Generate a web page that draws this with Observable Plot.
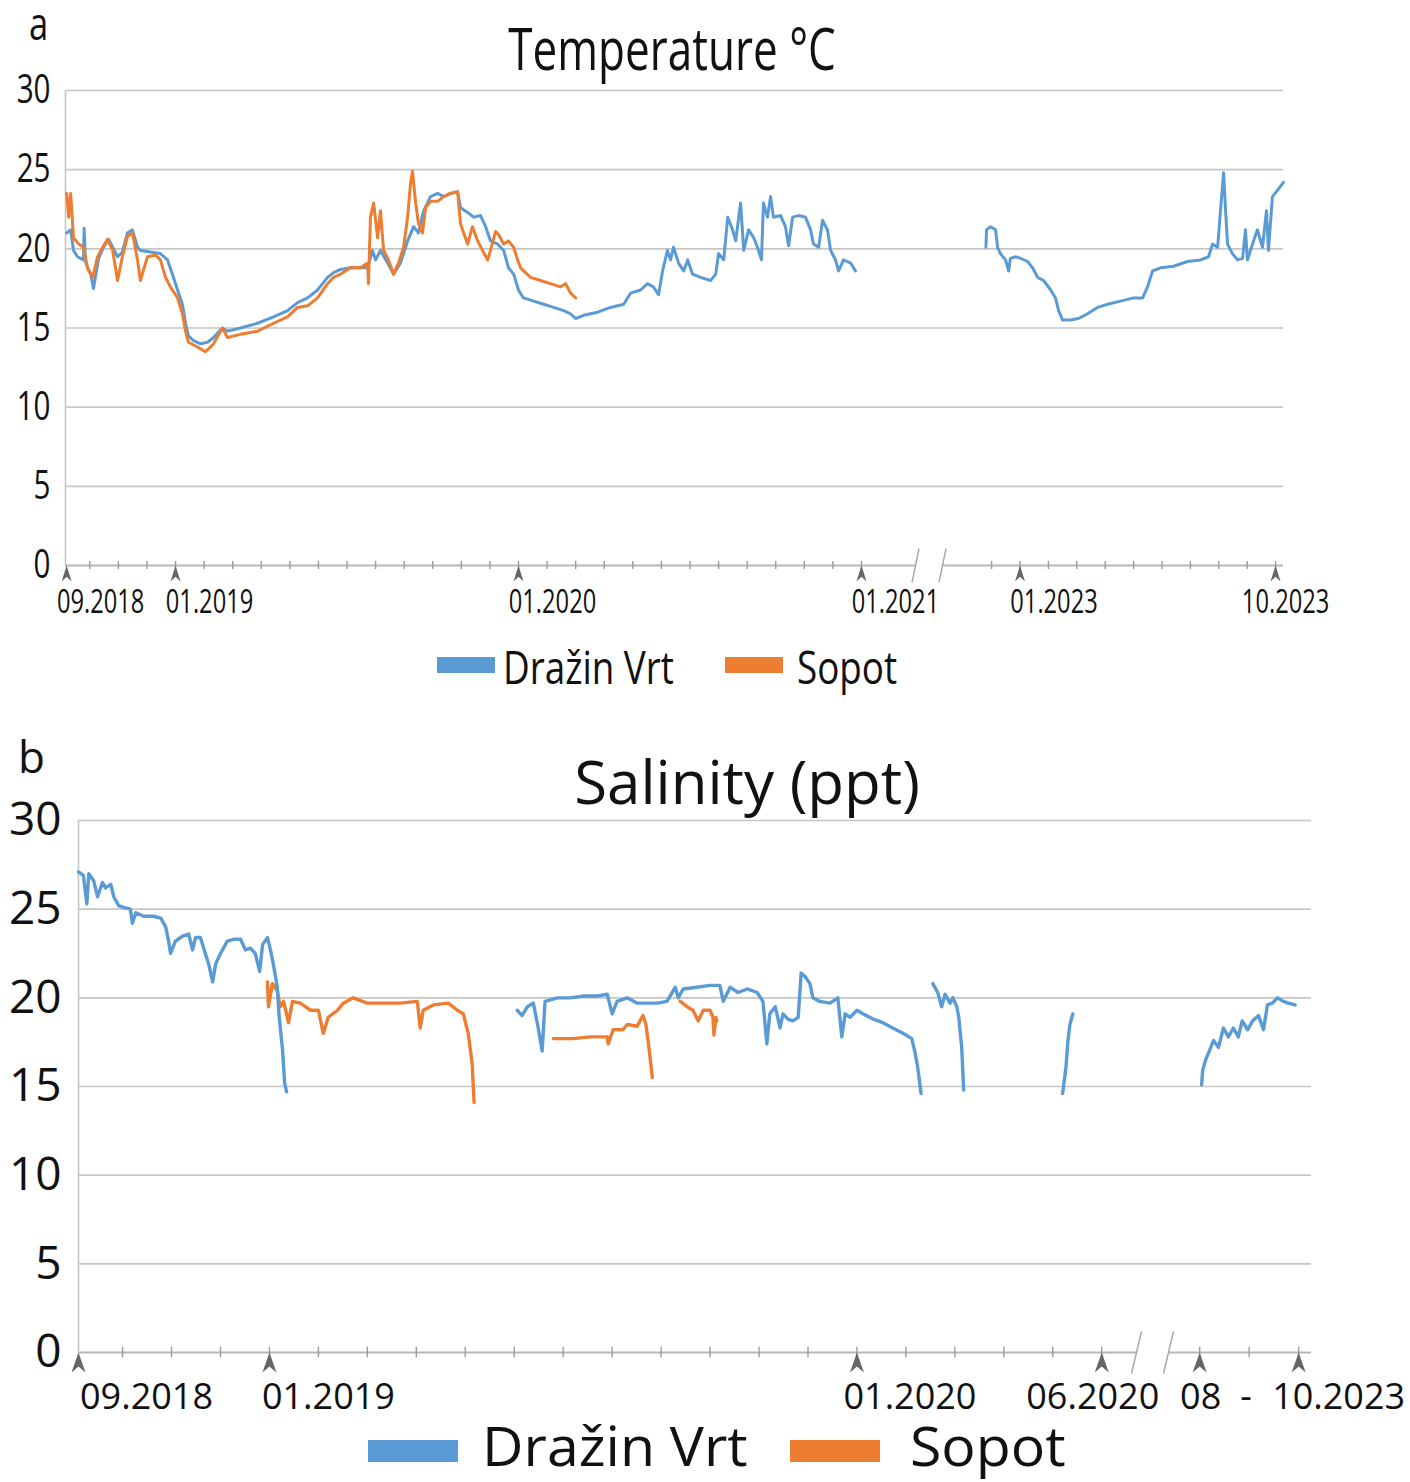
<!DOCTYPE html>
<html><head><meta charset="utf-8">
<script src="https://cdn.jsdelivr.net/npm/d3@7"></script>
<script src="https://cdn.jsdelivr.net/npm/@observablehq/plot@0.6"></script>
<style>
body{margin:0;background:#fff;}
#wrap{position:relative;width:1410px;height:1482px;overflow:hidden;background:#fff;}
#wrap > *{position:absolute;left:0;}
text{font-family:"Open Sans",sans-serif;}
</style></head>
<body><div id="wrap">
<div id="pa" style="top:0"></div>
<div id="pb" style="top:700px"></div>
<svg id="over" width="1410" height="1482" style="top:0;pointer-events:none">
  <text transform="translate(29,40) scale(0.75,1)" font-size="46" fill="#111">a</text>
  <text transform="translate(672,70) scale(0.76,1)" font-size="58" text-anchor="middle" fill="#111">Temperature °C</text>
  <rect x="437" y="657" width="58" height="16" fill="#5B9BD5"/>
  <text transform="translate(503,684) scale(0.8,1)" font-size="46" fill="#111">Dražin Vrt</text>
  <rect x="725" y="657" width="58" height="16" fill="#ED7D31"/>
  <text transform="translate(797,684) scale(0.8,1)" font-size="46" fill="#111">Sopot</text>
  <text x="18" y="773" font-size="44" fill="#111">b</text>
  <text x="747" y="804" font-size="60" text-anchor="middle" fill="#111">Salinity (ppt)</text>
  <rect x="368" y="1440" width="90" height="22" fill="#5B9BD5"/>
  <text transform="translate(482,1466) scale(1.04,1)" font-size="55" fill="#111">Dražin Vrt</text>
  <rect x="790" y="1440" width="90" height="22" fill="#ED7D31"/>
  <text transform="translate(910,1466) scale(1.04,1)" font-size="55" fill="#111">Sopot</text>
</svg>
</div>
<script>
// ---- Data: [months since 01.09.2018, value] ----
const tempBlue1 = [[0.19,21.0],[0.33,21.2],[0.43,19.9],[0.57,19.5],[0.78,19.3],[0.80,21.3],[0.85,19.2],[0.92,18.8],[1.03,18.4],[1.13,17.5],[1.31,19.4],[1.48,20.1],[1.66,20.6],[1.80,20.1],[1.97,19.5],[2.14,19.8],[2.32,21.0],[2.49,21.2],[2.67,20.1],[2.77,19.9],[3.12,19.8],[3.47,19.7],[3.72,19.3],[3.89,18.4],[4.07,17.4],[4.24,16.5],[4.35,15.3],[4.45,14.5],[4.63,14.2],[4.87,14.0],[5.12,14.1],[5.33,14.4],[5.64,15.0],[5.82,14.8],[6.27,15.0],[6.87,15.3],[7.43,15.7],[7.92,16.1],[8.27,16.6],[8.62,16.9],[8.97,17.4],[9.32,18.2],[9.53,18.5],[9.77,18.7],[10.12,18.8],[10.72,18.8],[10.89,19.9],[11.00,19.3],[11.17,19.9],[11.42,19.1],[11.63,18.4],[11.87,19.1],[12.12,20.5],[12.33,21.4],[12.50,21.0],[12.68,22.4],[12.92,23.3],[13.17,23.5],[13.38,23.3],[13.62,23.5],[13.87,23.6],[13.97,22.6],[14.22,22.3],[14.43,22.0],[14.67,22.1],[14.85,21.4],[15.02,20.5],[15.27,20.3],[15.48,19.9],[15.65,18.8],[15.83,18.4],[16.00,17.4],[16.17,16.9],[16.53,16.7],[16.88,16.5],[17.23,16.3],[17.58,16.1],[17.82,15.9],[18.00,15.6],[18.28,15.8],[18.77,16.0],[19.22,16.3],[19.68,16.5],[19.92,17.2],[20.27,17.4],[20.51,17.8],[20.72,17.6],[20.90,17.1],[21.04,18.6],[21.21,19.9],[21.32,19.3],[21.42,20.1],[21.60,19.1],[21.78,18.6],[21.92,19.3],[22.09,18.4],[22.37,18.2],[22.72,18.0],[22.90,18.4],[23.00,19.7],[23.18,19.3],[23.32,22.0],[23.49,21.2],[23.60,20.5],[23.77,22.9],[23.88,19.9],[24.05,21.2],[24.23,20.7],[24.36,20.1],[24.50,19.3],[24.57,22.9],[24.71,22.0],[24.82,23.3],[24.92,22.0],[25.17,22.1],[25.34,21.4],[25.45,20.2],[25.59,22.0],[25.80,22.1],[26.04,22.0],[26.22,21.2],[26.32,20.3],[26.50,20.1],[26.64,21.8],[26.81,21.2],[26.92,19.9],[27.09,19.3],[27.20,18.6],[27.37,19.3],[27.62,19.1],[27.79,18.6]];
const tempBlue2 = [[50.80,20.1],[50.82,21.2],[50.96,21.4],[51.14,21.2],[51.21,20.1],[51.31,19.7],[51.49,19.3],[51.60,18.6],[51.66,19.4],[51.84,19.5],[52.02,19.4],[52.27,19.2],[52.44,18.8],[52.62,18.2],[52.83,18.0],[53.08,17.4],[53.25,16.9],[53.36,16.1],[53.50,15.5],[53.78,15.5],[54.06,15.6],[54.38,15.9],[54.73,16.3],[55.09,16.5],[55.54,16.7],[56.00,16.9],[56.32,16.9],[56.49,17.6],[56.67,18.6],[56.95,18.8],[57.41,18.9],[57.90,19.2],[58.36,19.3],[58.64,19.5],[58.78,20.3],[58.96,20.1],[59.06,22.4],[59.17,24.8],[59.24,22.4],[59.31,20.3],[59.48,19.7],[59.66,19.3],[59.84,19.4],[59.94,21.2],[60.01,19.3],[60.19,20.3],[60.36,21.2],[60.54,20.1],[60.68,22.4],[60.75,19.9],[60.89,23.3],[61.07,23.7],[61.28,24.2]];
const tempOrange = [[0.19,23.5],[0.26,22.0],[0.33,23.5],[0.43,20.7],[0.61,20.3],[0.78,20.1],[0.92,18.8],[1.10,18.2],[1.27,19.5],[1.45,20.1],[1.62,20.6],[1.80,19.9],[1.97,18.0],[2.14,19.5],[2.32,20.8],[2.49,21.0],[2.67,19.3],[2.77,18.0],[3.02,19.5],[3.30,19.6],[3.47,19.3],[3.65,18.2],[3.82,17.6],[4.07,16.9],[4.24,15.9],[4.35,14.8],[4.45,14.1],[4.77,13.8],[5.05,13.5],[5.33,14.0],[5.64,15.0],[5.82,14.4],[6.27,14.6],[6.87,14.8],[7.43,15.3],[7.92,15.7],[8.27,16.3],[8.62,16.4],[8.97,16.9],[9.32,17.8],[9.53,18.2],[9.77,18.4],[10.12,18.8],[10.47,18.8],[10.72,19.1],[10.75,17.8],[10.82,22.0],[10.93,22.9],[11.07,20.7],[11.17,22.4],[11.28,19.9],[11.45,19.3],[11.63,18.4],[11.80,19.1],[11.98,20.1],[12.12,22.0],[12.22,24.1],[12.29,24.9],[12.40,22.9],[12.50,21.6],[12.64,21.0],[12.75,22.6],[12.92,23.0],[13.17,23.0],[13.38,23.3],[13.62,23.5],[13.87,23.6],[13.97,21.6],[14.08,21.0],[14.22,20.3],[14.39,21.4],[14.57,20.5],[14.74,19.9],[14.92,19.3],[15.02,19.9],[15.20,21.1],[15.30,20.9],[15.48,20.3],[15.65,20.5],[15.83,20.1],[15.97,19.3],[16.07,18.8],[16.42,18.2],[16.77,18.0],[17.12,17.8],[17.47,17.6],[17.65,17.8],[17.82,17.2],[18.00,16.9]];

const salBlue1 = [[0.10,27.1],[0.20,26.9],[0.27,25.3],[0.31,27.0],[0.41,26.6],[0.49,25.7],[0.59,26.5],[0.65,26.2],[0.76,26.4],[0.82,25.7],[0.92,25.2],[1.02,25.1],[1.16,25.0],[1.20,24.2],[1.27,24.8],[1.43,24.6],[1.63,24.6],[1.78,24.5],[1.88,24.0],[1.94,23.2],[1.98,22.5],[2.08,23.2],[2.24,23.5],[2.35,23.6],[2.43,22.7],[2.49,23.4],[2.59,23.4],[2.69,22.5],[2.76,21.9],[2.84,20.9],[2.90,21.9],[3.00,22.5],[3.14,23.2],[3.27,23.3],[3.41,23.3],[3.51,22.7],[3.61,22.8],[3.71,22.5],[3.80,21.5],[3.86,23.0],[3.96,23.4],[4.02,22.7],[4.08,21.9],[4.16,20.6],[4.20,18.9],[4.27,17.0],[4.31,15.2],[4.35,14.7]];
const salBlue2 = [[9.06,19.3],[9.16,19.0],[9.27,19.5],[9.39,19.7],[9.49,18.3],[9.57,17.0],[9.63,19.8],[9.88,20.0],[10.14,20.0],[10.41,20.1],[10.69,20.1],[10.90,20.2],[11.00,19.1],[11.10,19.8],[11.31,20.0],[11.51,19.7],[11.71,19.7],[11.92,19.7],[12.12,19.8],[12.29,20.6],[12.35,20.0],[12.45,20.5],[12.73,20.6],[13.00,20.7],[13.20,20.7],[13.27,19.8],[13.41,20.6],[13.57,20.3],[13.76,20.5],[13.96,20.3],[14.08,19.8],[14.16,17.4],[14.22,19.1],[14.33,19.5],[14.43,18.3],[14.49,19.1],[14.59,18.8],[14.69,18.7],[14.80,18.9],[14.86,21.4],[14.94,21.2],[15.04,20.8],[15.10,20.0],[15.24,19.8],[15.45,19.7],[15.61,20.0],[15.69,17.8],[15.76,19.1],[15.86,18.9],[16.00,19.3],[16.12,19.1],[16.33,18.8],[16.53,18.6],[16.73,18.3],[16.94,18.0],[17.12,17.7],[17.18,17.0],[17.24,16.1],[17.31,14.6]];
const salBlue3 = [[17.55,20.8],[17.65,20.3],[17.73,19.5],[17.80,20.2],[17.90,19.7],[17.96,20.0],[18.04,19.5],[18.08,18.9],[18.14,17.2],[18.18,14.8]];
const salBlue4 = [[20.20,14.6],[20.27,16.1],[20.31,17.6],[20.35,18.5],[20.41,19.1]];
const salBlue5 = [[59.04,15.1],[59.06,15.9],[59.12,16.5],[59.18,16.9],[59.28,17.6],[59.38,17.2],[59.48,18.3],[59.58,17.8],[59.68,18.3],[59.78,17.8],[59.86,18.7],[59.97,18.2],[60.07,18.7],[60.19,19.0],[60.29,18.2],[60.37,19.6],[60.47,19.7],[60.57,20.0],[60.69,19.8],[60.79,19.7],[60.93,19.6]];
const salOrange1 = [[3.96,20.9],[3.98,19.5],[4.06,20.8],[4.16,20.4],[4.22,19.5],[4.29,19.8],[4.39,18.6],[4.47,19.8],[4.63,19.7],[4.84,19.3],[5.00,19.3],[5.10,18.0],[5.20,18.9],[5.39,19.3],[5.51,19.7],[5.71,20.0],[6.00,19.7],[6.33,19.7],[6.67,19.7],[7.02,19.8],[7.08,18.3],[7.14,19.3],[7.35,19.6],[7.65,19.7],[7.84,19.3],[7.96,19.1],[8.06,18.0],[8.14,16.3],[8.18,14.1]];
const salOrange2 = [[9.80,17.7],[10.20,17.7],[10.55,17.8],[10.90,17.8],[10.92,17.4],[11.02,18.2],[11.22,18.2],[11.31,18.5],[11.51,18.4],[11.63,19.0],[11.69,18.5],[11.76,17.0],[11.82,15.5]];
const salOrange3 = [[12.39,19.8],[12.53,19.5],[12.65,19.3],[12.76,18.7],[12.86,19.3],[13.00,19.3],[13.06,18.9],[13.08,17.9],[13.12,18.9],[13.14,18.7]];

// ---- Axis definitions ----
const yTicks = [0, 5, 10, 15, 20, 25, 30];
const tickMonthsA = [1,2,3,4,5,6,7,8,9,10,11,12,13,14,15,16,17,18,19,20,21,22,23,24,25,26,27,28,51,52,53,54,55,56,57,58,59,60,61];
const arrowMonthsA = [0.19, 4, 16, 28, 52, 61];
const labelsA = ["09.2018", "01.2019", "01.2020", "01.2021", "01.2023", "10.2023"];
const breakA = [29.89, 49.27];
const extentA = [0.15, 61.28];

const tickMonthsB = [1,2,3,4,5,6,7,8,9,10,11,12,13,14,15,16,17,18,19,20,21,59,60,61];
const arrowMonthsB = [0.10, 4, 16, 21, 59, 61];
const labelsB = ["09.2018", "01.2019", "01.2020", "06.2020", "08", "-", "10.2023"];
const labelMonthsB = [0.10, 4, 16, 21, 59, 60, 61];
const breakB = [21.71, 58.37];
const extentB = [0.10, 61.26];

const SERIES = ["Dražin Vrt", "Sopot"];
const COLORS = ["#5B9BD5", "#ED7D31"];

const rows = (arr, series, id) => arr.map(([m, v]) => ({m, v, series, id}));

const arrowSym = (w, h) => ({draw(c){c.moveTo(0,0);c.lineTo(w/2,h);c.lineTo(0,h*0.7);c.lineTo(-w/2,h);c.closePath();}});
const slashSym = (w, h) => ({draw(c){c.moveTo(-w/2,h/2);c.lineTo(w/2,-h/2);}});

const FONT = '"Open Sans",sans-serif';

function axisMarks(o){
  const {extent, brk, ticks, arrows, tickHalf, arrowW, arrowH, slashW, slashH} = o;
  return [
    Plot.ruleY(yTicks.slice(1), {x1: extent[0], x2: extent[1], stroke: "#c6c6c6", strokeWidth: 1.6}),
    Plot.ruleX([extent[0]], {y1: 0, y2: 30, stroke: "#c6c6c6", strokeWidth: 1.6}),
    Plot.ruleY([[extent[0], brk[0]], [brk[1], extent[1]]], {y: 0, x1: d => d[0], x2: d => d[1], stroke: "#b8b8b8", strokeWidth: 1.8}),
    Plot.ruleX(ticks, {y1: -tickHalf, y2: tickHalf, stroke: "#9a9a9a", strokeWidth: 1.4}),
    Plot.dot(arrows, {x: d => d, y: 0, symbol: arrowSym(arrowW, arrowH), fill: "#666", stroke: "none"}),
    Plot.dot(brk, {x: d => d, y: 0, symbol: slashSym(slashW, slashH), fill: "none", stroke: "#a6a6a6", strokeWidth: 1.4})
  ];
}

// horizontally condense the texts of a chart (panel a uses a squeezed face)
function squeeze(svg, s){
  svg.querySelectorAll("text").forEach(t => {
    const tr = t.getAttribute("transform") || "";
    t.setAttribute("transform", `${tr} scale(${s},1)`);
  });
}

// ---- Panel a ----
const plotA = Plot.plot({
  width: 1410, height: 640,
  marginTop: 90, marginBottom: 75, marginLeft: 65, marginRight: 127,
  x: {type: "linear", domain: [extentA[0], breakA[0], breakA[1], extentA[1]], range: [65, 915, 942, 1283], axis: null},
  y: {domain: [0, 30], range: [565, 90], axis: null},
  style: {fontFamily: FONT, background: "transparent", overflow: "visible", color: "#111"},
  marks: [
    ...axisMarks({extent: extentA, brk: breakA, ticks: tickMonthsA, arrows: arrowMonthsA, tickHalf: 0.26, arrowW: 10, arrowH: 16, slashW: 7, slashH: 34}),
    Plot.text(yTicks, {x: extentA[0], y: d => d, text: d => String(d), textAnchor: "end", dx: -15, fontSize: 40, fill: "#111"}),
    Plot.text(labelsA.slice(0, -1), {x: (d, i) => arrowMonthsA[i], y: 0, text: d => d, textAnchor: "middle", dx: 34, dy: 37, fontSize: 32, fill: "#111"}),
    Plot.text(labelsA.slice(-1), {x: () => arrowMonthsA[arrowMonthsA.length - 1], y: 0, text: d => d, textAnchor: "middle", dx: 10, dy: 37, fontSize: 32, fill: "#111"}),
    Plot.line([...rows(tempBlue1, SERIES[0], "b1"), ...rows(tempBlue2, SERIES[0], "b2")], {x: "m", y: "v", z: "id", stroke: COLORS[0], strokeWidth: 3, strokeLinejoin: "round"}),
    Plot.line(rows(tempOrange, SERIES[1], "o1"), {x: "m", y: "v", z: "id", stroke: COLORS[1], strokeWidth: 3, strokeLinejoin: "round"})
  ]
});
squeeze(plotA, 0.74);
document.getElementById("pa").appendChild(plotA);

// ---- Panel b ----
const offB = [68, 59, 53, -9, 1, -3, 40];
const plotB = Plot.plot({
  width: 1410, height: 740,
  marginTop: 120, marginBottom: 88, marginLeft: 78, marginRight: 99,
  x: {type: "linear", domain: [extentB[0], breakB[0], breakB[1], extentB[1]], range: [78, 1136, 1168, 1311], axis: null},
  y: {domain: [0, 30], range: [652, 120], axis: null},
  style: {fontFamily: FONT, background: "transparent", overflow: "visible", color: "#111"},
  marks: [
    ...axisMarks({extent: extentB, brk: breakB, ticks: tickMonthsB, arrows: arrowMonthsB, tickHalf: 0.3, arrowW: 14, arrowH: 20, slashW: 10, slashH: 42}),
    Plot.text(yTicks, {x: extentB[0], y: d => d, text: d => String(d), textAnchor: "end", dx: -17, fontSize: 46, fill: "#111"}),
    ...labelsB.map((lab, i) => Plot.text([lab], {x: () => labelMonthsB[i], y: 0, text: d => d, textAnchor: "middle", dx: offB[i], dy: 45, fontSize: 36, fill: "#111"})),
    Plot.line([...rows(salOrange1, SERIES[1], "o1"), ...rows(salOrange2, SERIES[1], "o2"), ...rows(salOrange3, SERIES[1], "o3")], {x: "m", y: "v", z: "id", stroke: COLORS[1], strokeWidth: 3.4, strokeLinejoin: "round"}),
    Plot.line([...rows(salBlue1, SERIES[0], "b1"), ...rows(salBlue2, SERIES[0], "b2"), ...rows(salBlue3, SERIES[0], "b3"), ...rows(salBlue4, SERIES[0], "b4"), ...rows(salBlue5, SERIES[0], "b5")], {x: "m", y: "v", z: "id", stroke: COLORS[0], strokeWidth: 3.4, strokeLinejoin: "round"})
  ]
});
document.getElementById("pb").appendChild(plotB);
</script>
</body></html>
